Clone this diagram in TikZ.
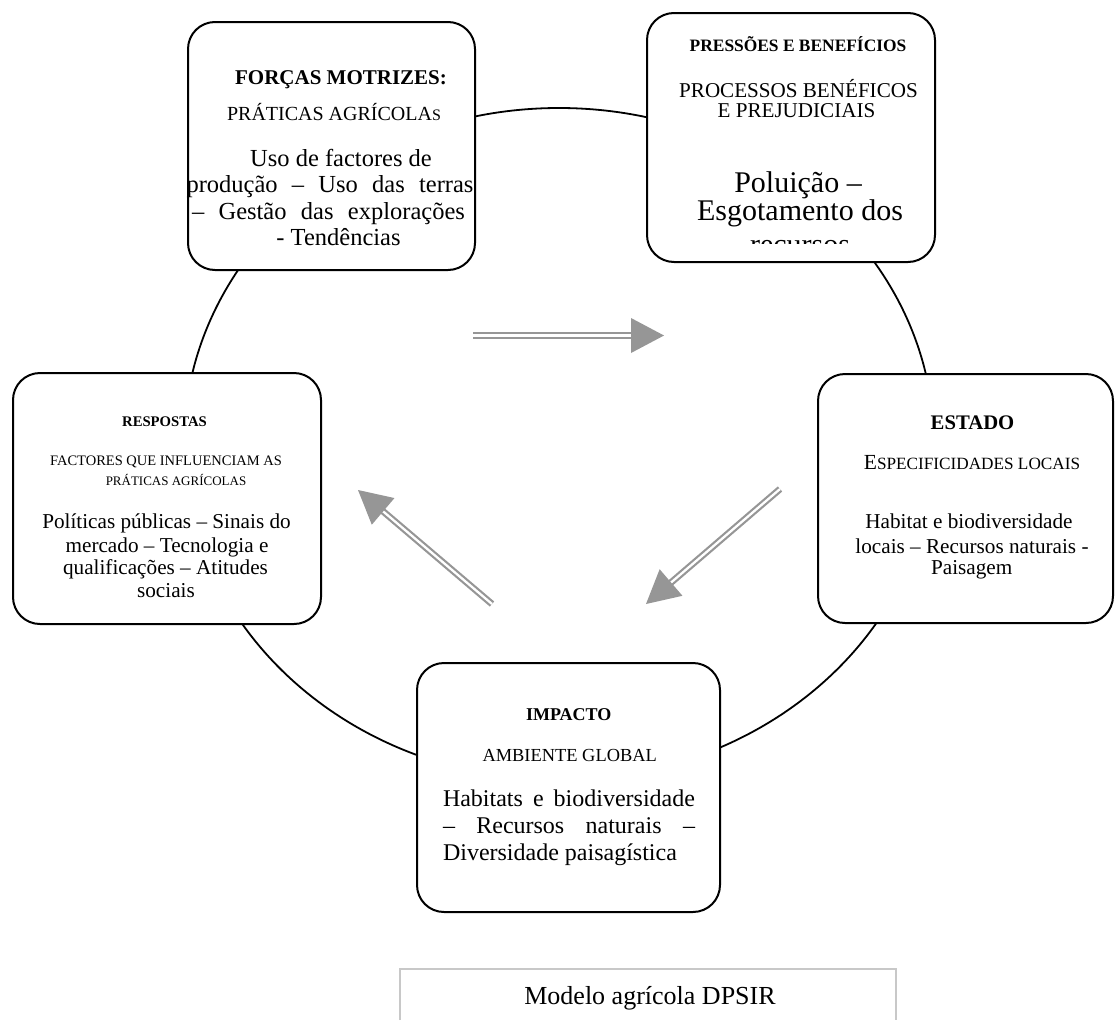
\documentclass[tikz,border=0pt]{standalone}
\usepackage{fontspec}
\setmainfont{Liberation Serif}
\usetikzlibrary{calc,shapes.geometric}
\definecolor{arrgray}{RGB}{150,150,150}
\definecolor{capgray}{RGB}{200,200,200}
\newcommand\fsz[1]{\fontsize{#1}{#1}\selectfont}
\newcommand\dblarrow[3]{%
  \coordinate (#3b) at ($(#2)!33pt!(#1)$);
  \draw[shaft] (#1) -- ($(#2)!30pt!(#1)$);
  \fill[arrgray] (#2) -- ($(#3b)!17.5pt!90:(#2)$) -- ($(#3b)!17.5pt!-90:(#2)$) -- cycle;}
\begin{document}
\begin{tikzpicture}[x=1pt,y=-1pt,
  box/.style={draw=black, line width=2pt, rounded corners=27pt, fill=white, inner sep=0pt, outer sep=0pt},
  txt/.style={anchor=base, inner sep=0pt, outer sep=0pt},
  ring/.style={draw=black, line width=1.8pt, ellipse, inner sep=0pt},
  shaft/.style={draw=arrgray, line width=2.2pt, double=white, double distance=2.3pt},
  capframe/.style={draw=capgray, line width=1.5pt}
]
\useasboundingbox (0,0) rectangle (1115,1020);
\fill[white] (0,0) rectangle (1115,1020);

% cycle
\node[ring, minimum width=750pt, minimum height=672pt] (cyc) at (559,444) {};

% boxes
\node[box, minimum width=287pt, minimum height=248pt] (forcas) at (331.5,146) {};
\node[box, minimum width=288pt, minimum height=249pt] (pressoes) at (791,137.5) {};
\node[box, minimum width=308pt, minimum height=251pt] (respostas) at (167,498.5) {};
\node[box, minimum width=295pt, minimum height=249pt] (estado) at (965.5,498.5) {};
\node[box, minimum width=303pt, minimum height=249pt] (impacto) at (568.5,787.5) {};

% FORCAS MOTRIZES
\node[txt, font=\fsz{21}\bfseries] (f1) at (341,84) {FORÇAS MOTRIZES:};
\node[txt, font=\fsz{20}] (f2) at (334,120) {PRÁTICAS AGRÍCOLA{\fsz{16}S}};
\node[txt, font=\fsz{24.5}] (f3) at (341,166) {Uso de factores de};
\node[txt, font=\fsz{24.5}] (f4) at (330,192.5) {\makebox[287pt][s]{produção – Uso das terras}};
\node[txt, font=\fsz{24.5}] (f5) at (328.5,219) {\makebox[273pt][s]{– Gestão das explorações}};
\node[txt, font=\fsz{24.5}] (f6) at (338.5,245) {- Tendências};

% PRESSOES
\node[txt, font=\fsz{17.4}\bfseries] (p1) at (798,51.7) {PRESSÕES E BENEFÍCIOS};
\node[txt, font=\fsz{21.1}] (p2) at (798.5,97) {PROCESSOS BENÉFICOS};
\node[txt, font=\fsz{21.1}] (p3) at (796.5,117) {E PREJUDICIAIS};
\node[txt, font=\fsz{30}] (p4) at (798,192) {Poluição –};
\node[txt, font=\fsz{30}] (p5) at (800,220) {Esgotamento dos};
\begin{scope}
\clip (647,13) rectangle (935,243);
\node[txt, font=\fsz{30}] (p6) at (800,254) {recursos};
\end{scope}

% RESPOSTAS
\node[txt, font=\fsz{14.7}\bfseries] (r1) at (164.5,426.7) {RESPOSTAS};
\node[txt, font=\fsz{14.5}] (r2) at (166,465) {FACTORES QUE INFLUENCIAM AS};
\node[txt, font=\fsz{13}] (r3) at (176,485) {PRÁTICAS AGRÍCOLAS};
\node[txt, font=\fsz{21.2}] (r4) at (166.5,528) {Políticas públicas – Sinais do};
\node[txt, font=\fsz{21.2}] (r5) at (167,552) {mercado – Tecnologia e};
\node[txt, font=\fsz{21.2}] (r6) at (165.5,574) {qualificações – Atitudes};
\node[txt, font=\fsz{21.2}] (r7) at (166,597) {sociais};

% ESTADO
\node[txt, font=\fsz{20.7}\bfseries] (e1) at (972.5,429) {ESTADO};
\node[txt, font=\fsz{21.5}] (e2) at (972,469) {E{\fsz{17.2}SPECIFICIDADES LOCAIS}};
\node[txt, font=\fsz{21.2}] (e3) at (969,528) {Habitat e biodiversidade};
\node[txt, font=\fsz{21.2}] (e4) at (972,553) {locais – Recursos naturais -};
\node[txt, font=\fsz{21.2}] (e5) at (971.7,574) {Paisagem};

% IMPACTO
\node[txt, font=\fsz{18}\bfseries] (i1) at (568.7,720) {IMPACTO};
\node[txt, font=\fsz{18.4}] (i2) at (569.7,761.7) {AMBIENTE GLOBAL};
\node[txt, font=\fsz{24}] (i3) at (569,806.7) {\makebox[252pt][s]{Habitats e biodiversidade}};
\node[txt, font=\fsz{24}] (i4) at (569,833) {\makebox[252pt][s]{– Recursos naturais –}};
\node[txt, font=\fsz{24}, anchor=base west] (i5) at (443,860) {Diversidade paisagística};

% arrows
\coordinate (h1s) at (473,335.5);
\coordinate (h1e) at (664,335.5);
\coordinate (d1s) at (780,489);
\coordinate (d1e) at (646,604);
\coordinate (d2s) at (492,604);
\coordinate (d2e) at (358,490);
\dblarrow{h1s}{h1e}{ha}
\dblarrow{d1s}{d1e}{hb}
\dblarrow{d2s}{d2e}{hc}

% caption
\coordinate (cbl) at (400,1020);
\coordinate (ctl) at (400,969);
\coordinate (ctr) at (896,969);
\coordinate (cbr) at (896,1020);
\draw[capframe] (cbl) -- (ctl) -- (ctr) -- (cbr);
\node[txt, font=\fsz{26}] (cap) at (650,1004) {Modelo agrícola DPSIR};
\end{tikzpicture}
\end{document}
